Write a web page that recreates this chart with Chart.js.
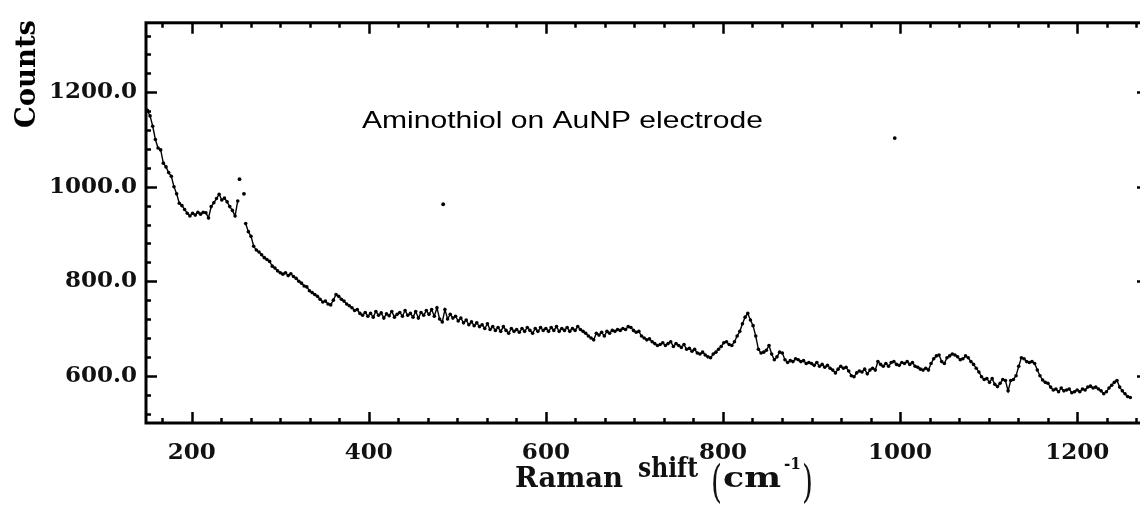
<!DOCTYPE html>
<html>
<head>
<meta charset="utf-8">
<script src="https://cdn.jsdelivr.net/npm/chart.js@4.4.1/dist/chart.umd.min.js"></script>
<style>
  html, body { margin: 0; padding: 0; background: #fff; overflow: hidden; width: 1140px; height: 507px; }
  #wrap { width: 1140px; height: 507px; overflow: hidden; position: relative; }
  canvas { display: block; }
</style>
</head>
<body>
<div id="wrap"><canvas id="c" width="1160" height="507"></canvas></div>
<script>
// Raman shift sampling grid (cm-1): first value and spacing
const shiftStart = 150;
const shiftStep = 3;

// Counts, one per grid step (null = gap in trace)
const counts = [
  1162, 1150, 1128, 1100, 1082, 1078, 1050, 1042, 1030, 1022,
  1000, 985, 965, 960, 952, 944, 938, 944, 940, 946,
  942, 946, 945, 934, 958, 966, 975, 984, 972, 976,
  968, 958, 950, 938, 970, null, null, 922, 905, 895,
  874, 866, 862, 856, 850, 846, 842, 832, 828, 822,
  818, 815, 818, 812, 816, 810, 806, 800, 796, 790,
  788, 780, 776, 772, 768, 762, 756, 758, 752, 750,
  760, 772, 768, 762, 758, 752, 748, 744, 738, 740,
  732, 728, 734, 726, 732, 724, 736, 728, 733, 722,
  731, 727, 736, 724, 730, 734, 726, 738, 728, 732,
  724, 736, 722, 734, 728, 738, 730, 740, 726, 744,
  720, 714, 740, 720, 730, 722, 726, 716, 722, 712,
  718, 708, 714, 706, 712, 704, 708, 700, 710, 698,
  704, 696, 702, 694, 704, 696, 690, 700, 694, 698,
  692, 700, 694, 702, 696, 690, 700, 694, 702, 696,
  700, 694, 702, 696, 704, 694, 700, 696, 702, 694,
  700, 696, 704, 698, 694, 690, 684, 680, 676, 690,
  686, 692, 684, 694, 690, 696, 694, 698, 696, 700,
  698, 704, 702, 696, 692, 694, 684, 680, 676, 678,
  672, 668, 664, 666, 670, 664, 668, 672, 662, 668,
  664, 660, 666, 656, 658, 652, 656, 648, 646, 650,
  644, 640, 638, 646, 650, 656, 662, 670, 672, 666,
  664, 672, 684, 694, 710, 724, 732, 718, 706, 684,
  656, 648, 650, 654, 664, 646, 634, 640, 650, 648,
  634, 628, 632, 630, 636, 634, 630, 632, 626, 628,
  626, 622, 628, 620, 624, 618, 622, 616, 612, 606,
  614, 620, 616, 618, 610, 600, 598, 606, 610, 608,
  614, 604, 612, 616, 612, 630, 624, 620, 626, 620,
  628, 630, 624, 622, 628, 626, 630, 624, 628, 620,
  618, 614, 612, 616, 612, 626, 636, 642, 644, 630,
  626, 638, 642, 646, 644, 640, 634, 636, 642, 638,
  630, 624, 616, 608, 598, 592, 594, 586, 594, 582,
  577, 584, 592, 590, 568, 590, 592, 600, 620, 638,
  636, 630, 628, 630, 626, 612, 600, 591, 586, 584,
  576, 570, 572, 566, 574, 568, 570, 572, 564, 566,
  570, 566, 572, 570, 576, 578, 574, 576, 572, 568,
  562, 566, 574, 580, 586, 590, 576, 568, 562, 556,
  554
];

// Isolated spike points (not joined to the trace)
const spikeShift = [254, 259, 484, 994];
const spikeCounts = [1016, 985, 963, 1103];

// Axis ticks and labels
const xTickValues = [200, 400, 600, 800, 1000, 1200];
const xTickLabels = ['200', '400', '600', '800', '1000', '1200'];
const yTickValues = [600, 800, 1000, 1200];
const yTickLabels = ['600.0', '800.0', '1000.0', '1200.0'];

const annotationText = 'Aminothiol on AuNP electrode';
const yTitle = 'Counts';

const tracePoints = counts.map((c, i) => ({ x: shiftStart + i * shiftStep, y: c }));
const spikePoints = spikeShift.map((s, i) => ({ x: s, y: spikeCounts[i] }));

function drawFit(ctx, text, x, yBase, w, font) {
  ctx.save();
  ctx.font = font;
  ctx.textAlign = 'left';
  ctx.textBaseline = 'alphabetic';
  const m = ctx.measureText(text).width;
  ctx.translate(x, yBase);
  ctx.scale(w / m, 1);
  ctx.fillText(text, 0, 0);
  ctx.restore();
}

const framePlugin = {
  id: 'frame',
  afterDraw(chart) {
    const { ctx, chartArea: a, scales: { x, y } } = chart;
    ctx.save();
    ctx.strokeStyle = '#000';
    ctx.lineWidth = 3;
    ctx.strokeRect(a.left, a.top, a.right - a.left, a.bottom - a.top);

    ctx.lineWidth = 2.5;
    ctx.beginPath();
    const majorLen = 11, minorLen = 5;
    const xMinor = [];
    for (let v = 200 - 200 / 6; v < x.max; v += 200 / 6) xMinor.push(v);
    xMinor.forEach(v => {
      const isMajor = xTickValues.some(t => Math.abs(t - v) < 1);
      const len = isMajor ? majorLen : minorLen;
      const px = Math.round(x.getPixelForValue(v)) + 0.5;
      if (px < a.left + 1 || px > a.right - 1) return;
      ctx.moveTo(px, a.bottom); ctx.lineTo(px, a.bottom - len);
      ctx.moveTo(px, a.top); ctx.lineTo(px, a.top + len);
    });
    const yMinor = [];
    for (let v = 520; v < y.max; v += 40) yMinor.push(v);
    yMinor.forEach(v => {
      const isMajor = yTickValues.includes(v);
      const len = isMajor ? majorLen : minorLen;
      const py = Math.round(y.getPixelForValue(v)) + 0.5;
      ctx.moveTo(a.left, py); ctx.lineTo(a.left + len, py);
      ctx.moveTo(a.right, py); ctx.lineTo(a.right - len, py);
    });
    ctx.stroke();

    ctx.fillStyle = '#000';
    drawFit(ctx, annotationText, 362, 128, 401, '24px "Liberation Sans", Arial, sans-serif');

    ctx.save();
    ctx.translate(35, 128);
    ctx.rotate(-Math.PI / 2);
    drawFit(ctx, yTitle, 0, 0, 108, 'bold 28px "DejaVu Serif", serif');
    ctx.restore();

    ctx.fillStyle = '#111';
    drawFit(ctx, 'Raman', 515, 487, 108, 'bold 27px "DejaVu Serif", serif');
    drawFit(ctx, 'shift', 638, 477, 60, 'bold 27px "DejaVu Serif", serif');
    drawFit(ctx, '(', 711, 497, 11, '44px "DejaVu Serif", serif');
    drawFit(ctx, 'cm', 723, 487, 58, 'bold 27px "DejaVu Serif", serif');
    drawFit(ctx, '-1', 784, 469, 17, 'bold 16px "DejaVu Serif", serif');
    drawFit(ctx, ')', 802, 497, 11, '44px "DejaVu Serif", serif');
    ctx.restore();
  }
};

new Chart(document.getElementById('c'), {
  type: 'line',
  data: {
    datasets: [
      {
        label: 'Spectrum',
        data: tracePoints,
        borderColor: '#000',
        borderWidth: 1.4,
        pointRadius: 1.8,
        pointBackgroundColor: '#000',
        pointBorderWidth: 0,
        tension: 0,
        spanGaps: false
      },
      {
        label: 'Spikes',
        data: spikePoints,
        showLine: false,
        pointRadius: 1.9,
        pointBackgroundColor: '#000',
        pointBorderWidth: 0
      }
    ]
  },
  options: {
    responsive: false,
    animation: false,
    events: [],
    layout: { padding: { left: 0, right: 12, top: 21, bottom: 0 } },
    plugins: { legend: { display: false }, tooltip: { enabled: false } },
    scales: {
      x: {
        type: 'linear',
        min: 148.4,
        max: 1280,
        grid: { display: false, drawTicks: false },
        border: { display: false },
        afterBuildTicks: s => { s.ticks = xTickValues.map(v => ({ value: v })); },
        afterFit: s => { s.height = 84; },
        ticks: {
          padding: 16,
          color: '#111',
          maxRotation: 0,
          font: { family: '"DejaVu Serif", serif', size: 23, weight: 'bold' },
          callback: v => xTickLabels[xTickValues.indexOf(v)]
        }
      },
      y: {
        min: 500,
        max: 1347,
        grid: { display: false, drawTicks: false },
        border: { display: false },
        afterBuildTicks: s => { s.ticks = yTickValues.map(v => ({ value: v })); },
        afterFit: s => { s.width = 146; },
        ticks: {
          padding: 9,
          color: '#111',
          font: { family: '"DejaVu Serif", serif', size: 23, weight: 'bold' },
          callback: v => yTickLabels[yTickValues.indexOf(v)]
        }
      }
    }
  },
  plugins: [framePlugin]
});
</script>
</body>
</html>
